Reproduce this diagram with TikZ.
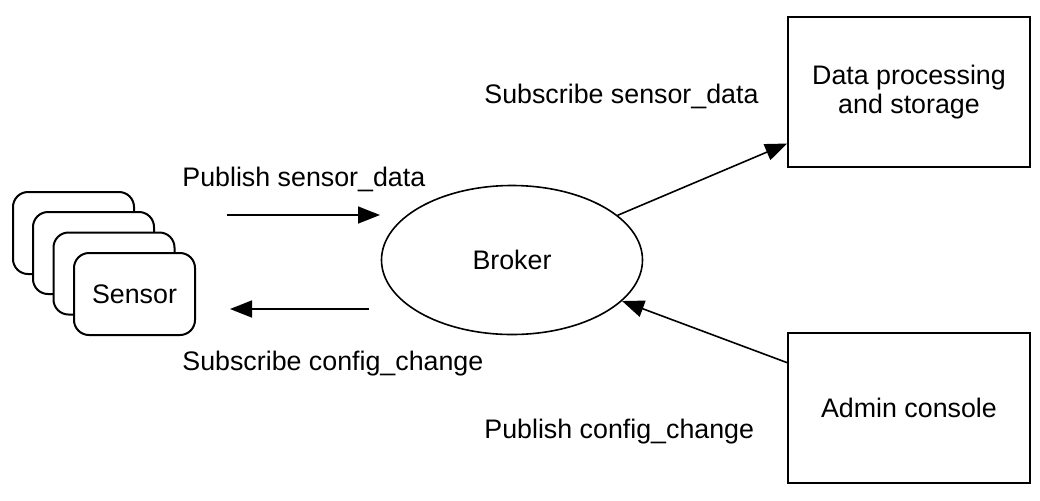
\documentclass[tikz,border=0pt]{standalone}
\usepackage{fontspec}
\setmainfont{Liberation Sans}
\usetikzlibrary{arrows.meta,shapes.geometric}
\begin{document}
\begin{tikzpicture}[x=0.5pt,y=-0.5pt,
  every node/.style={font=\fontsize{13.4}{14.5}\selectfont},
  sensorbox/.style={draw,line width=1pt,fill=white,rounded corners=7.5pt,minimum width=60.5pt,minimum height=41pt,inner sep=0pt},
  plainbox/.style={draw,line width=0.8pt,minimum width=121pt,minimum height=75pt,align=center,inner sep=0pt},
  brokerell/.style={draw,line width=0.8pt,ellipse,minimum width=130.5pt,minimum height=74.5pt,inner sep=0pt},
  lbl/.style={inner sep=0pt,anchor=base west},
  conn/.style={line width=0.8pt,-{Triangle[length=11pt,width=8.5pt]}}]
\useasboundingbox (0,0) rectangle (1040,500);
\node[sensorbox] (s1) at (73.5,233) {};
\node[sensorbox] (s2) at (93.5,253) {};
\node[sensorbox] (s3) at (114,273.5) {};
\node[sensorbox] (s4) at (134.5,294) {Sensor};
\node[brokerell] (broker) at (512,260) {Broker};
\node[plainbox] (data) at (909,92) {Data processing\\and storage};
\node[plainbox] (admin) at (909,408) {Admin console};
\coordinate (pa1) at (227,215);
\coordinate (pa2) at (380,215);
\coordinate (sa1) at (369,309);
\coordinate (sa2) at (230,309);
\draw[conn] (pa1) -- (pa2);
\draw[conn] (sa1) -- (sa2);
\draw[conn] (broker) -- (data);
\draw[conn] (admin) -- (broker);
\node[lbl] (l1) at (182,186) {Publish sensor\_data};
\node[lbl] (l2) at (182,370) {Subscribe config\_change};
\node[lbl] (l3) at (484,103) {Subscribe sensor\_data};
\node[lbl] (l4) at (484,438) {Publish config\_change};
\end{tikzpicture}
\end{document}
